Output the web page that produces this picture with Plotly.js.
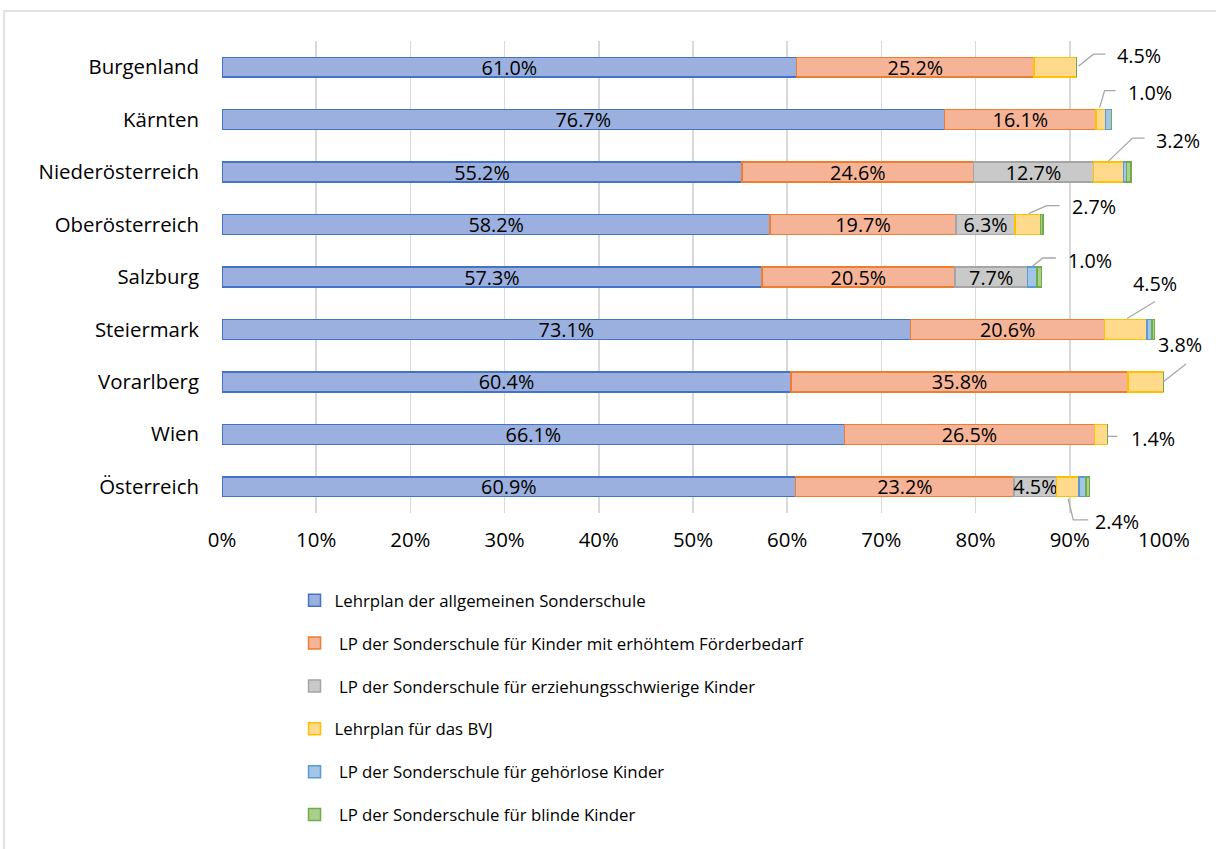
<!DOCTYPE html>
<html>
<head>
<meta charset="utf-8">
<script src="https://cdn.plot.ly/plotly-3.0.1.min.js"></script>
<style>html,body{margin:0;padding:0;background:#fff;}#chart{width:1216px;height:849px;}</style>
</head>
<body>
<div id="chart"></div>
<script>
// ---- data ----
const categories = ["Burgenland","Kärnten","Niederösterreich","Oberösterreich","Salzburg","Steiermark","Vorarlberg","Wien","Österreich"];
const seriesNames = [
  "Lehrplan der allgemeinen Sonderschule",
  "\u00a0LP der Sonderschule für Kinder mit erhöhtem Förderbedarf",
  "\u00a0LP der Sonderschule für erziehungsschwierige Kinder",
  "Lehrplan für das BVJ",
  "\u00a0LP der Sonderschule für gehörlose Kinder",
  "\u00a0LP der Sonderschule für blinde Kinder"
];
const allgemein     = [61.0, 76.7, 55.2, 58.2, 57.3, 73.1, 60.4, 66.1, 60.9];
const erhoeht       = [25.2, 16.1, 24.6, 19.7, 20.5, 20.6, 35.8, 26.5, 23.2];
const erziehung     = [0, 0, 12.7, 6.3, 7.7, 0, 0, 0, 4.5];
const bvj           = [4.5, 1.0, 3.2, 2.7, 0, 4.5, 3.8, 1.4, 2.4];
const gehoerlos     = [0, 0.6, 0.3, 0, 1.0, 0.5, 0, 0, 0.7];
const blind         = [0, 0, 0.5, 0.25, 0.5, 0.3, 0, 0, 0.4];
const xTicks = [0,10,20,30,40,50,60,70,80,90,100];
// which series each callout label belongs to (by category)
const calloutSeries = [3, 3, 3, 3, 4, 3, 3, 3, 3];

// ---- style ----
const fills   = ["#9bb0de","#f5b497","#c9c9c9","#ffd98c","#a3c5e8","#aad08f"];
const borders = ["#4472c4","#ed7d31","#a5a5a5","#ffc000","#5b9bd5","#70ad47"];
const FONT = "Open Sans, Noto Sans, sans-serif";
const LABEL_SIZE = 19.8;
const TICK_SIZE = 20.4;
const series = [allgemein, erhoeht, erziehung, bvj, gehoerlos, blind];
const insideLabelled = [true, true, true, false, false, false];
const xRange = [0, 100];

const traces = series.map((vals, i) => ({
  type: "bar",
  orientation: "h",
  name: seriesNames[i],
  legendgroup: "g" + i,
  y: categories,
  x: vals,
  marker: {color: fills[i], line: {color: borders[i], width: 1.5}},
  text: insideLabelled[i] ? vals.map(v => v > 0 ? v.toFixed(1) + "%" : "") : vals.map(() => ""),
  textposition: "inside",
  insidetextanchor: "middle",
  textangle: 0,
  constraintext: "none",
  textfont: {family: FONT, size: LABEL_SIZE, color: "#000"},
  hoverinfo: "name+x"
}));

// callout leader geometry (pixel offsets from the end of the referenced segment; +y = up)
const calloutPaths = [
  "M 2 1 L 17 13 L 29 13",
  "M -6 12 L -1 29 L 10 29",
  "M -15 11 L 9 34 L 21 34",
  "M -12 11 L 6 19 L 19 19",
  "M -4 11 L 6 19 L 19 19",
  "M -20 11 L 8 28",
  "M -1 0 L 22 18",
  "M 0 -2 L 10 -2",
  "M -11 -12 L -6 -33 L 9 -33"
];
const calloutText = [[63,-12],[44,-27],[55,-32],[53,-18],[53,-17],[8,-46],[16,-37],[46,4],[38,35]];

// map axis values to paper fractions (linear x axis over xRange, reversed category y axis)
const xToPaper = v => (v - xRange[0]) / (xRange[1] - xRange[0]);
const yToPaper = i => 1 - (i + 0.5) / categories.length;

const shapes = [];
const annotations = [];
categories.forEach((c, ci) => {
  const si = calloutSeries[ci];
  let end = 0;
  for (let k = 0; k <= si; k++) end += series[k][ci];
  shapes.push({
    type: "path", xref: "paper", yref: "paper",
    xsizemode: "pixel", ysizemode: "pixel",
    xanchor: xToPaper(end), yanchor: yToPaper(ci),
    path: calloutPaths[ci],
    line: {color: "#a6a6a6", width: 1.3}
  });
  annotations.push({
    xref: "x", yref: "y", x: end, y: ci,
    text: series[si][ci].toFixed(1) + "%",
    showarrow: false,
    xshift: calloutText[ci][0], yshift: -calloutText[ci][1],
    font: {family: FONT, size: LABEL_SIZE, color: "#000"}
  });
});
// chart border
shapes.push({type: "rect", xref: "paper", yref: "paper",
  x0: -0.2314, x1: 1.2, y0: -0.9, y1: 1.0636,
  line: {color: "#d9d9d9", width: 1.5}, layer: "below"});

const layout = {
  width: 1216, height: 849,
  margin: {l: 222, r: 52, t: 41, b: 336},
  paper_bgcolor: "#fff", plot_bgcolor: "#fff",
  barmode: "stack",
  bargap: 0.62,
  font: {family: FONT, size: TICK_SIZE, color: "#000"},
  xaxis: {
    range: xRange, tickvals: xTicks, ticktext: xTicks.map(v => v + "%"),
    showgrid: true, gridcolor: "#d9d9d9", gridwidth: 1.5,
    zeroline: false, showline: false, ticks: "", ticklabelstandoff: 13,
    tickfont: {family: FONT, size: TICK_SIZE, color: "#000"}, fixedrange: true
  },
  yaxis: {
    type: "category", autorange: "reversed",
    showgrid: false, zeroline: false, showline: false, ticks: "",
    ticklabelstandoff: 22,
    tickfont: {family: FONT, size: TICK_SIZE, color: "#000"}, fixedrange: true
  },
  legend: {
    orientation: "v", traceorder: "grouped", tracegroupgap: 18,
    x: 0.077, xanchor: "left", y: -0.148, yanchor: "top",
    font: {family: FONT, size: 16.8, color: "#000"},
    bgcolor: "rgba(0,0,0,0)"
  },
  showlegend: true,
  shapes: shapes,
  annotations: annotations
};

Plotly.newPlot("chart", traces, layout, {displayModeBar: false, staticPlot: true});
</script>
</body>
</html>
